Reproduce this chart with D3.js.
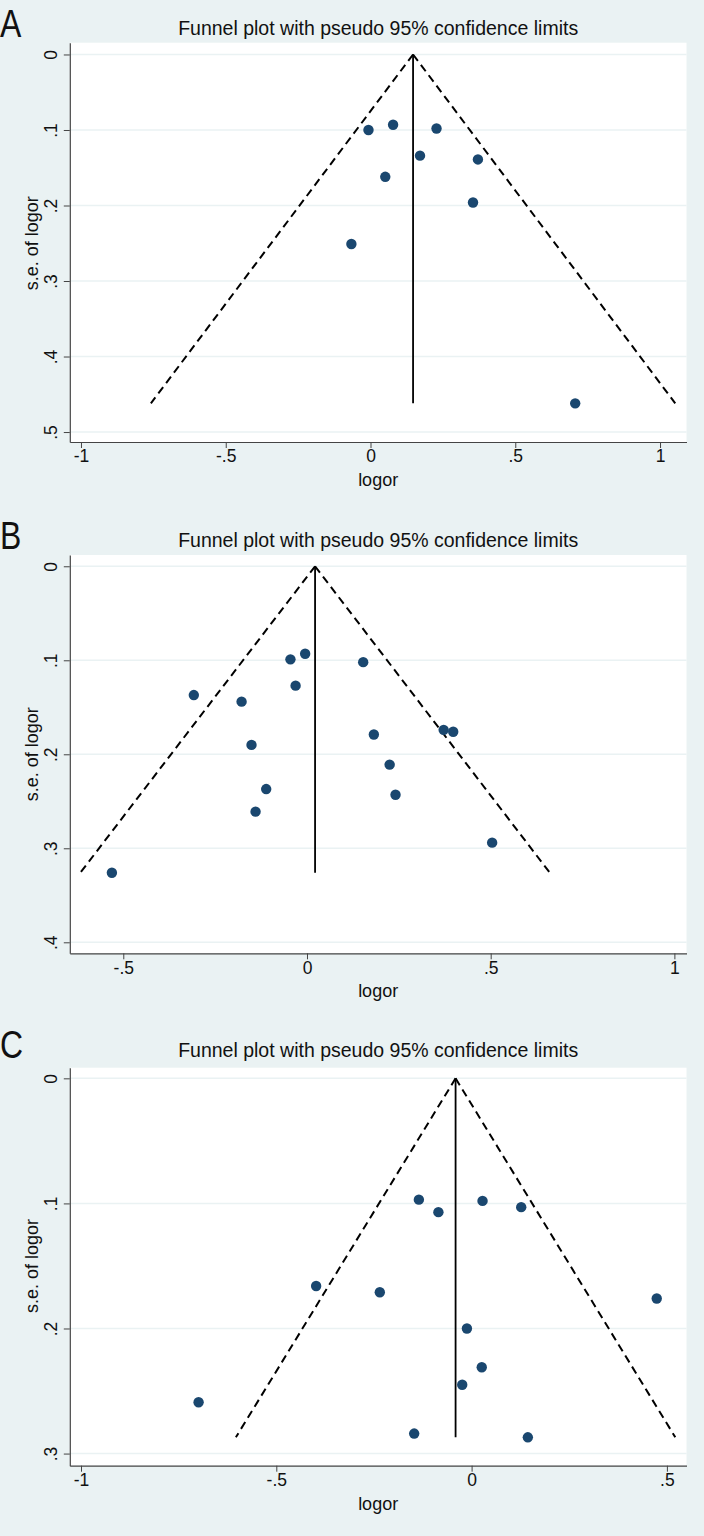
<!DOCTYPE html>
<html>
<head>
<meta charset="utf-8">
<script src="https://cdn.jsdelivr.net/npm/d3@7"></script>
<style>
  html, body { margin: 0; padding: 0; background: #eaf2f3; }
  svg { display: block; }
  text { font-family: "Liberation Sans", Arial, sans-serif; fill: #111; }
</style>
</head>
<body>
<svg id="chart" width="704" height="1536"></svg>
<script>
// ---------- DATA ----------
const panelLetters = ["A", "B", "C"];
const chartTitle = "Funnel plot with pseudo 95% confidence limits";
const xAxisTitle = "logor";
const yAxisTitle = "s.e. of logor";

// Panel A
const logorA = [-0.007, 0.078, 0.228, 0.171, 0.371, 0.051, 0.354, -0.066, 0.707];
const seA    = [0.100, 0.093, 0.098, 0.134, 0.139, 0.162, 0.196, 0.251, 0.462];
const pooledA = 0.147;
const xTicksA = [-1, -0.5, 0, 0.5, 1];
const yTicksA = [0, 0.1, 0.2, 0.3, 0.4, 0.5];

// Panel B
const logorB = [-0.005, -0.045, -0.031, -0.308, -0.178, -0.151, -0.111, -0.140, -0.531,
                0.153, 0.182, 0.225, 0.241, 0.372, 0.398, 0.504];
const seB    = [0.093, 0.099, 0.127, 0.137, 0.144, 0.190, 0.237, 0.261, 0.326,
                0.102, 0.179, 0.211, 0.243, 0.174, 0.176, 0.294];
const pooledB = 0.022;
const xTicksB = [-0.5, 0, 0.5, 1];
const yTicksB = [0, 0.1, 0.2, 0.3, 0.4];

// Panel C
const logorC = [-0.135, -0.085, 0.028, 0.127, -0.398, -0.235, 0.474, -0.012, 0.026, -0.024,
                -0.699, -0.147, 0.144];
const seC    = [0.097, 0.107, 0.098, 0.103, 0.166, 0.171, 0.176, 0.200, 0.231, 0.245,
                0.259, 0.284, 0.287];
const pooledC = -0.041;
const xTicksC = [-1, -0.5, 0, 0.5];
const yTicksC = [0, 0.1, 0.2, 0.3];

// ---------- LAYOUT ----------
const layout = [
  { letter: panelLetters[0], logor: logorA, se: seA, pooled: pooledA, xTicks: xTicksA, yTicks: yTicksA,
    xDomain: [-1.0386, 1.0914], yDomain: [-0.0156, 0.5132], top: 42.7, bottom: 442, letterY: 37, titleY: 35 },
  { letter: panelLetters[1], logor: logorB, se: seB, pooled: pooledB, xTicks: xTicksB, yTicks: yTicksB,
    xDomain: [-0.6456, 1.0330], yDomain: [-0.0120, 0.4117], top: 555, bottom: 953.3, letterY: 549, titleY: 547 },
  { letter: panelLetters[2], logor: logorC, se: seC, pooled: pooledC, xTicks: xTicksC, yTicks: yTicksC,
    xDomain: [-1.0287, 0.5502], yDomain: [-0.0085, 0.3097], top: 1067.7, bottom: 1465.7, letterY: 1058, titleY: 1057 }
];
const plotLeft = 69.8, plotRight = 686.5;
const navy = "#1a476f";
const bg = "#eaf2f3";
const tickFont = 17.5;

const fmt = d => {
  if (d === 0) return "0";
  return String(+d.toFixed(2)).replace(/^(-?)0\./, "$1.");
};

const svg = d3.select("#chart");
svg.append("rect").attr("width", 704).attr("height", 1536).attr("fill", bg);

layout.forEach(p => {
  const g = svg.append("g");
  const x = d3.scaleLinear().domain(p.xDomain).range([plotLeft, plotRight]);
  const y = d3.scaleLinear().domain(p.yDomain).range([p.top, p.bottom]);

  // panel letter (narrow, tall)
  g.append("text").attr("transform", `translate(0,${p.letterY}) scale(0.82,1)`)
    .attr("font-family", "'Open Sans', sans-serif")
    .attr("font-size", 39).text(p.letter);

  // title
  g.append("text").attr("x", (plotLeft + plotRight) / 2).attr("y", p.titleY)
    .attr("text-anchor", "middle").attr("font-size", 19.5).text(chartTitle);

  // plot region
  g.append("rect").attr("x", plotLeft).attr("y", p.top)
    .attr("width", plotRight - plotLeft).attr("height", p.bottom - p.top).attr("fill", "#fff");

  // gridlines
  g.selectAll(".grid").data(p.yTicks).join("line")
    .attr("x1", plotLeft).attr("x2", plotRight)
    .attr("y1", d => y(d)).attr("y2", d => y(d))
    .attr("stroke", bg).attr("stroke-width", 1.5);

  // funnel
  const seMax = d3.max(p.se);
  g.append("line")
    .attr("x1", x(p.pooled)).attr("x2", x(p.pooled))
    .attr("y1", y(0)).attr("y2", y(seMax))
    .attr("stroke", "#000").attr("stroke-width", 1.8);
  [-1, 1].forEach(s => {
    g.append("line")
      .attr("x1", x(p.pooled)).attr("y1", y(0))
      .attr("x2", x(p.pooled + s * 1.96 * seMax)).attr("y2", y(seMax))
      .attr("stroke", "#000").attr("stroke-width", 2)
      .attr("stroke-dasharray", "8,5");
  });

  // points
  g.selectAll(".pt").data(p.logor.map((v, i) => [v, p.se[i]])).join("circle")
    .attr("cx", d => x(d[0])).attr("cy", d => y(d[1])).attr("r", 5.2)
    .attr("fill", navy);

  // axes
  const yAxis = d3.axisLeft(y).tickValues(p.yTicks).tickFormat(fmt).tickSize(6).tickSizeOuter(0);
  const ya = g.append("g").attr("transform", `translate(${plotLeft},0)`).call(yAxis);
  ya.selectAll("text")
    .attr("x", null).attr("dy", null).attr("y", null)
    .attr("text-anchor", "middle")
    .attr("transform", "translate(-12.5,0) rotate(-90)")
    .attr("font-size", tickFont).attr("font-family", "'Liberation Sans', Arial, sans-serif").attr("fill", "#111");

  const xAxis = d3.axisBottom(x).tickValues(p.xTicks).tickFormat(fmt).tickSize(6).tickPadding(2).tickSizeOuter(0);
  const xa = g.append("g").attr("transform", `translate(0,${p.bottom})`).call(xAxis);
  xa.selectAll("text").attr("font-size", tickFont)
    .attr("font-family", "'Liberation Sans', Arial, sans-serif").attr("fill", "#111");

  [ya, xa].forEach(a => {
    a.select(".domain").attr("stroke", "#444").attr("stroke-width", 1.2);
    a.selectAll(".tick line").attr("stroke", "#444").attr("stroke-width", 1);
  });

  // axis titles
  g.append("text").attr("x", (plotLeft + plotRight) / 2).attr("y", p.bottom + 44)
    .attr("text-anchor", "middle").attr("font-size", 18).text(xAxisTitle);
  const yMid = (y(p.yTicks[0]) + y(p.yTicks[p.yTicks.length - 1])) / 2;
  g.append("text").attr("transform", `translate(37.5,${yMid}) rotate(-90)`)
    .attr("text-anchor", "middle").attr("font-size", 18).text(yAxisTitle);
});
</script>
</body>
</html>
